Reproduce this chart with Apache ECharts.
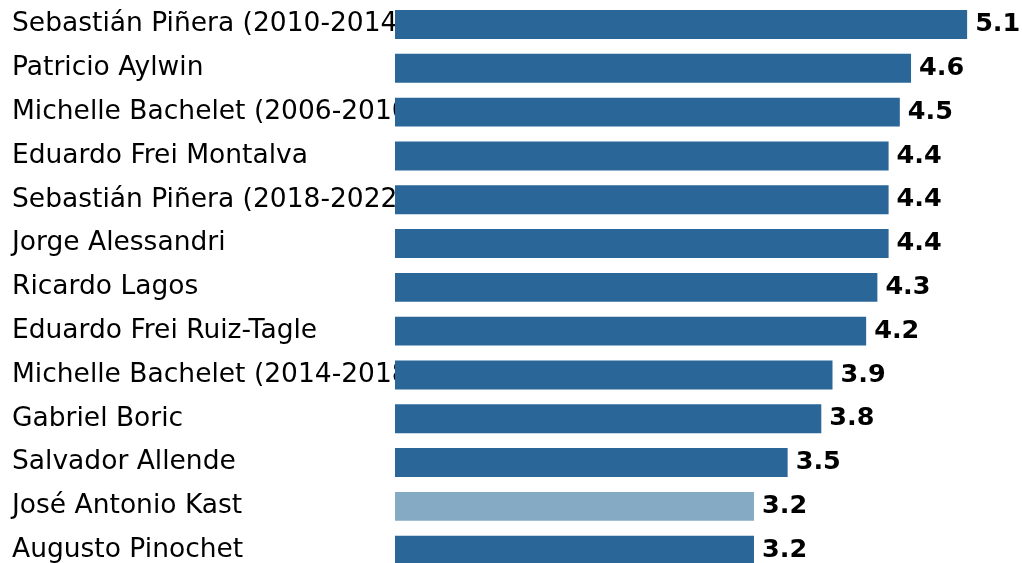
<!DOCTYPE html>
<html>
<head>
<meta charset="utf-8">
<script src="https://cdn.jsdelivr.net/npm/echarts@6/dist/echarts.min.js"></script>
<style>html,body{margin:0;padding:0;background:#fff;overflow:hidden;width:1022px;height:563px;}#c{width:1022px;height:576px;}</style>
</head>
<body>
<div id="c"></div>
<script>
var categories = ["Sebastián Piñera (2010-2014)","Patricio Aylwin","Michelle Bachelet (2006-2010)","Eduardo Frei Montalva","Sebastián Piñera (2018-2022)","Jorge Alessandri","Ricardo Lagos","Eduardo Frei Ruiz-Tagle","Michelle Bachelet (2014-2018)","Gabriel Boric","Salvador Allende","José Antonio Kast","Augusto Pinochet"];
var values = [5.1,4.6,4.5,4.4,4.4,4.4,4.3,4.2,3.9,3.8,3.5,3.2,3.2];
var highlight = ["José Antonio Kast"];
var chart = echarts.init(document.getElementById('c'), null, {renderer:'canvas'});
chart.setOption({
  animation:false,
  grid:{left:395,width:617,top:2.6,height:569.5,containLabel:false},
  xAxis:{type:'value',min:0,max:5.5,show:false},
  yAxis:{type:'category',data:categories,inverse:true,
    axisLine:{show:false},axisTick:{show:false},splitLine:{show:false},
    axisLabel:{align:'left',margin:383,fontFamily:'DejaVu Sans',fontSize:26.5,color:'#000'}},
  series:[{type:'bar',barWidth:'66%',
    data:values.map(function(v,i){return {value:v,itemStyle:{color: highlight.indexOf(categories[i])>=0 ? '#84aac4' : '#2a6698'}};}),
    label:{show:true,position:'right',distance:8,fontFamily:'DejaVu Sans',fontSize:25.5,fontWeight:'bold',color:'#000',formatter:function(p){return p.value.toFixed(1);}}
  }]
});
</script>
</body>
</html>
